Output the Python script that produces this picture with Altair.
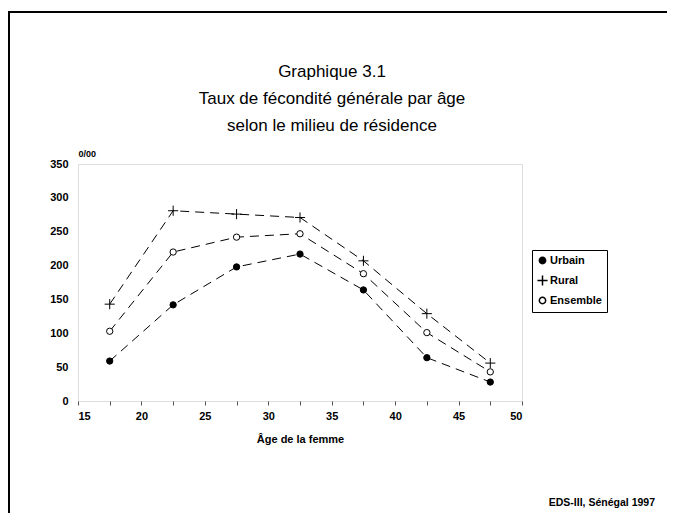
import altair as alt
import pandas as pd

ages = [17.5, 22.5, 27.5, 32.5, 37.5, 42.5, 47.5]
urbain = [59, 142, 198, 217, 164, 64, 28]
rural = [143, 281, 276, 271, 207, 129, 56]
ensemble = [103, 220, 242, 247, 188, 101, 43]
series_names = ["Urbain", "Rural", "Ensemble"]
title_lines = ["Graphique 3.1", "Taux de fécondité générale par âge", "selon le milieu de résidence"]
source_text = "EDS-III, Sénégal 1997"
x_ticks = [15, 17.5, 20, 22.5, 25, 27.5, 30, 32.5, 35, 37.5, 40, 42.5, 45, 47.5, 50]
y_ticks = [0, 50, 100, 150, 200, 250, 300, 350]

rows = []
for name, vals in zip(series_names, [urbain, rural, ensemble]):
    for a, v in zip(ages, vals):
        rows.append({"age": a, "taux": v, "milieu": name})
df = pd.DataFrame(rows)

FONT = "Liberation Sans"

x_enc = alt.X(
    "age:Q",
    scale=alt.Scale(domain=[15, 50], nice=False),
    axis=alt.Axis(
        values=x_ticks,
        labelExpr="datum.value % 5 == 0 ? datum.label : ''",
        labelOverlap=False,
        title="Âge de la femme",
        grid=False,
        tickSize=4,
        tickColor="#555",
        domain=False,
        labelFont=FONT, labelFontWeight="bold", labelFontSize=11, labelColor="black",
        labelPadding=5,
        titleFont=FONT, titleFontWeight="bold", titleFontSize=11, titleColor="black",
        titlePadding=12,
    ),
)
y_enc = alt.Y(
    "taux:Q",
    scale=alt.Scale(domain=[0, 350], nice=False),
    axis=alt.Axis(
        values=y_ticks,
        labelOverlap=False,
        title="0/00",
        titleAngle=0, titleAlign="left", titleBaseline="bottom",
        titleX=0, titleY=-6,
        titleFont=FONT, titleFontWeight="bold", titleFontSize=9, titleColor="black",
        grid=False, ticks=False, domain=False,
        labelFont=FONT, labelFontWeight="bold", labelFontSize=11, labelColor="black",
        labelPadding=10,
    ),
)

lines = alt.Chart(df).mark_line(
    color="black", strokeWidth=1, strokeDash=[9, 6]
).encode(x=x_enc, y=y_enc, detail="milieu:N")

legend_kw = dict(
    title=None, orient="none", legendX=454, legendY=86,
    strokeColor="black", padding=5, rowPadding=5,
    labelFont=FONT, labelFontWeight="bold", labelFontSize=11, labelColor="black",
    symbolSize=40,
    labelOffset=2,
)

plus_path = "M-1.6,0H1.6M0,-1.6V1.6"
points = alt.Chart(df).mark_point(
    stroke="black", strokeWidth=1, opacity=1, size=40
).encode(
    x=x_enc,
    y=y_enc,
    shape=alt.Shape(
        "milieu:N",
        scale=alt.Scale(domain=series_names, range=["circle", plus_path, "circle"]),
        legend=alt.Legend(**legend_kw),
    ),
    fill=alt.Fill(
        "milieu:N",
        scale=alt.Scale(domain=series_names, range=["black", "transparent", "white"]),
        legend=alt.Legend(**legend_kw),
    ),
)

def title_line(i, y):
    return alt.Chart(pd.DataFrame({"t": [title_lines[i]]})).mark_text(
        font=FONT, fontSize=17, color="black", align="center", baseline="alphabetic"
    ).encode(text="t:N", x=alt.value(254), y=alt.value(y))

source = alt.Chart(pd.DataFrame({"t": [source_text]})).mark_text(
    font=FONT, fontSize=10.5, fontWeight="bold", align="right", baseline="alphabetic", color="black"
).encode(text="t:N", x=alt.value(577), y=alt.value(342))

frame_top = alt.Chart(pd.DataFrame({"a": [0]})).mark_rule(
    color="black", strokeWidth=2
).encode(x=alt.value(-70), x2=alt.value(600), y=alt.value(-152))
frame_left = alt.Chart(pd.DataFrame({"a": [0]})).mark_rule(
    color="black", strokeWidth=2
).encode(x=alt.value(-69), y=alt.value(-153), y2=alt.value(360))

chart = alt.layer(
    lines, points,
    title_line(0, -87), title_line(1, -60), title_line(2, -33),
    source, frame_top, frame_left,
).properties(
    width=444,
    height=237,
    padding={"left": 70, "top": 156, "right": 145, "bottom": 112},
    autosize=alt.AutoSizeParams(type="none"),
).configure_view(
    stroke="black", strokeWidth=1
).configure(background="white")

chart.save("out.html", embed_options={"renderer": "svg", "actions": False})
